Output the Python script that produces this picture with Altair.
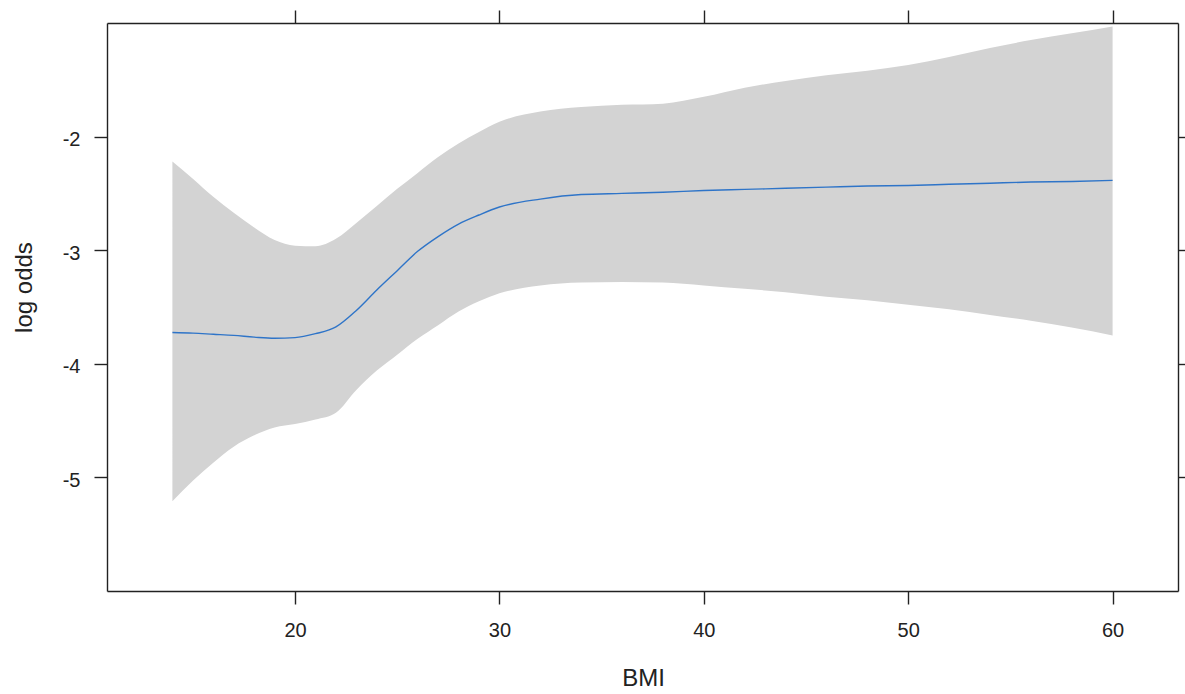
import altair as alt
import pandas as pd

bmi = [14, 15, 16, 17, 18, 19, 20, 21, 22, 23, 24, 25, 26, 27, 28, 29, 30,
       32, 34, 36, 38, 40, 42, 44, 46, 48, 50, 52, 54, 56, 58, 60]
fit = [-3.725, -3.73, -3.74, -3.75, -3.765, -3.775, -3.77, -3.735, -3.675, -3.53,
       -3.35, -3.18, -3.01, -2.88, -2.77, -2.69, -2.62,
       -2.55, -2.51, -2.50, -2.49, -2.475, -2.465, -2.455, -2.445, -2.435, -2.43,
       -2.42, -2.41, -2.40, -2.395, -2.385]
upper = [-2.22, -2.37, -2.53, -2.67, -2.80, -2.91, -2.96, -2.965, -2.90, -2.76,
         -2.61, -2.46, -2.32, -2.18, -2.06, -1.96, -1.87,
         -1.78, -1.74, -1.72, -1.71, -1.65, -1.57, -1.51, -1.46, -1.42, -1.37,
         -1.30, -1.22, -1.15, -1.09, -1.03]
lower = [-5.21, -5.03, -4.87, -4.73, -4.63, -4.56, -4.53, -4.49, -4.43, -4.23,
         -4.06, -3.92, -3.78, -3.66, -3.54, -3.45, -3.38,
         -3.31, -3.285, -3.28, -3.285, -3.31, -3.34, -3.37, -3.41, -3.44, -3.48,
         -3.52, -3.57, -3.62, -3.68, -3.75]

x_ticks = [20, 30, 40, 50, 60]
y_ticks = [-5, -4, -3, -2]

df = pd.DataFrame({"bmi": bmi, "fit": fit, "upper": upper, "lower": lower})

FONT = "Liberation Sans"
INK = "#222222"
xscale = alt.Scale(domain=[10.8, 63.2], nice=False, zero=False)
yscale = alt.Scale(domain=[-6.0, -1.0], nice=False, zero=False)

common = dict(domainColor=INK, domainWidth=1.4, tickColor=INK, tickWidth=1.4,
              tickSize=13, grid=False, labelFont=FONT, labelFontSize=20,
              labelColor=INK, titleFont=FONT, titleFontSize=24,
              titleColor=INK, titleFontWeight="normal")

base = alt.Chart(df)

band = base.mark_area(color="#d3d3d3", interpolate="monotone").encode(
    x=alt.X("bmi:Q", scale=xscale,
            axis=alt.Axis(orient="bottom", values=x_ticks, title="BMI",
                          labelPadding=16, labelExpr="datum.value",
                          titleX=536, titleY=94, titleAlign="center",
                          titleBaseline="alphabetic", **common)),
    y=alt.Y("lower:Q", scale=yscale,
            axis=alt.Axis(orient="left", values=y_ticks, title="log odds",
                          labelPadding=14, labelOffset=3,
                          labelExpr="datum.value",
                          titleX=-76, titleY=264, titleAlign="center",
                          titleBaseline="alphabetic", titleAngle=270,
                          **common)),
    y2="upper:Q",
)

line = base.mark_line(color="#2e74c8", strokeWidth=1.4,
                      interpolate="monotone").encode(
    x=alt.X("bmi:Q", scale=xscale,
            axis=alt.Axis(orient="top", values=x_ticks, labels=False,
                          title="", **common)),
    y=alt.Y("fit:Q", scale=yscale,
            axis=alt.Axis(orient="right", values=y_ticks, labels=False,
                          title="", **common)),
)

chart = alt.layer(band, line).resolve_axis(
    x="independent", y="independent"
).properties(
    width=1071, height=568,
    padding={"left": 107, "top": 23, "right": 7, "bottom": 103},
    autosize="none",
    background="white",
).configure_view(stroke=None)

chart.save("out.html", embed_options={"renderer": "svg", "actions": False})
